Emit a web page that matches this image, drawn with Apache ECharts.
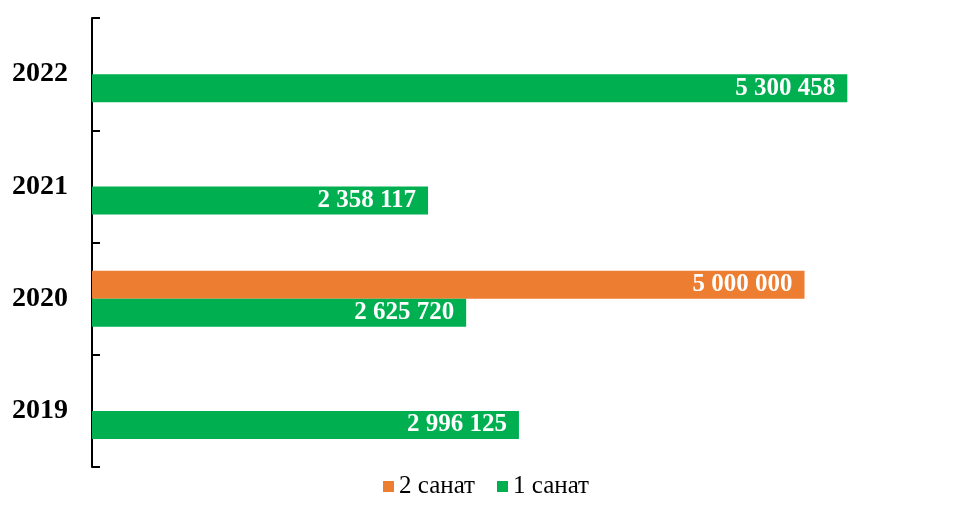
<!DOCTYPE html>
<html>
<head>
<meta charset="utf-8">
<script src="https://cdn.jsdelivr.net/npm/echarts@6/dist/echarts.min.js"></script>
<style>html,body{margin:0;padding:0;background:#fff;}#c{width:961px;height:510px;}</style>
</head>
<body>
<div id="c"></div>
<script>
var categories = ['2019', '2020', '2021', '2022'];
var series2Name = '2 санат';
var series1Name = '1 санат';
var series2Values = [null, 5000000, null, null];
var series1Values = [2996125, 2625720, 2358117, 5300458];

function fmt(v) {
  return String(Math.round(v)).replace(/\B(?=(\d{3})+(?!\d))/g, ' ');
}
var labelStyle = {
  show: true,
  position: 'insideRight',
  distance: 12,
  color: '#fff',
  fontFamily: 'Liberation Serif',
  fontWeight: 'bold',
  fontSize: 25,
  formatter: function (p) { return fmt(p.value); }
};
var chart = echarts.init(document.getElementById('c'));
chart.setOption({
  animation: false,
  grid: { left: 92, top: 18, bottom: 43, right: 14, containLabel: false },
  legend: {
    bottom: 6,
    left: 378,
    itemWidth: 11,
    itemHeight: 11,
    itemGap: 22,
    icon: 'rect',
    textStyle: { fontFamily: 'Liberation Serif', fontSize: 25, color: '#000' },
    data: [series2Name, series1Name]
  },
  xAxis: { type: 'value', min: 0, max: 6000000, show: false },
  yAxis: {
    type: 'category',
    data: categories,
    axisLine: { show: true, lineStyle: { color: '#000', width: 2 } },
    axisTick: { show: true, inside: true, length: 8, lineStyle: { color: '#000', width: 2 } },
    axisLabel: { margin: 24, color: '#000', fontFamily: 'Liberation Serif', fontWeight: 'bold', fontSize: 28, padding: [8, 0, 0, 0] },
    splitLine: { show: false }
  },
  series: [
    { name: series2Name, type: 'bar', data: series2Values, barWidth: 28, barGap: '0%', itemStyle: { color: '#ED7D31' }, label: labelStyle },
    { name: series1Name, type: 'bar', data: series1Values, barWidth: 28, barGap: '0%', itemStyle: { color: '#00B050' }, label: labelStyle }
  ]
});
</script>
</body>
</html>
